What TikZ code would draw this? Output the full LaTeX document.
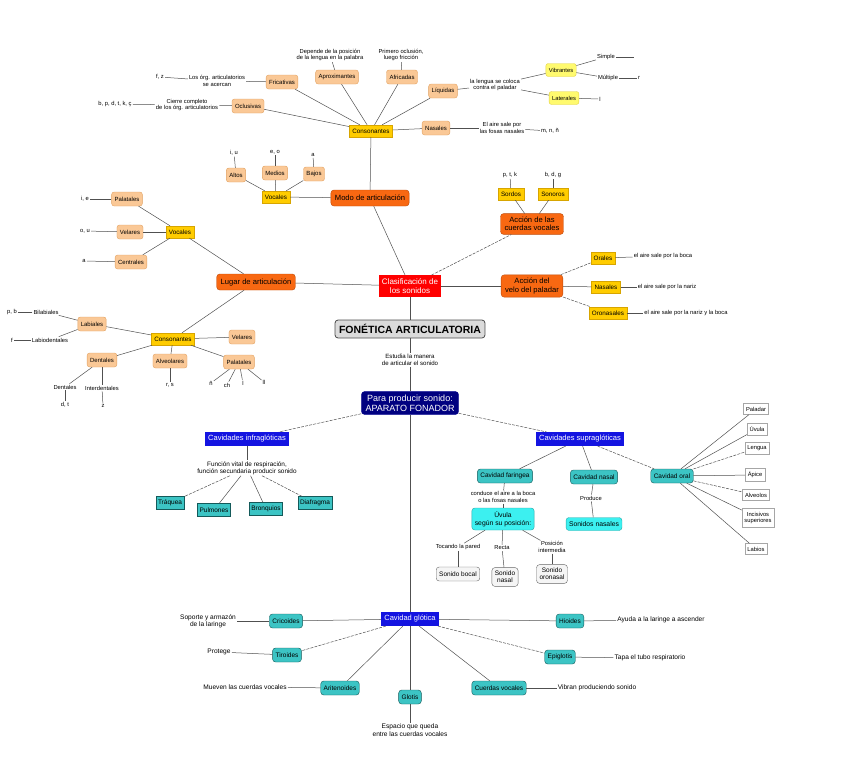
\documentclass[tikz,border=0pt]{standalone}
\usepackage{fontspec}
\setmainfont{Liberation Sans}

\definecolor{salmon}{RGB}{250,200,150}
\definecolor{salmonline}{RGB}{225,160,95}
\definecolor{gold}{RGB}{255,204,0}
\definecolor{goldline}{RGB}{215,165,0}
\definecolor{lyellow}{RGB}{255,250,110}
\definecolor{lyellowline}{RGB}{225,210,70}
\definecolor{orangebox}{RGB}{248,104,18}
\definecolor{orangeline}{RGB}{190,75,10}
\definecolor{navybox}{RGB}{0,0,128}
\definecolor{bluebox}{RGB}{20,20,225}
\definecolor{tealbox}{RGB}{60,196,196}
\definecolor{tealline}{RGB}{20,90,90}
\definecolor{cyanbox}{RGB}{60,240,240}
\definecolor{linegray}{RGB}{80,80,80}

\begin{document}
\begin{tikzpicture}[x=1pt,y=-1pt,
    ann/.style={align=center,inner sep=1pt,font=\fontsize{5.8}{6.4}\selectfont},
    annbig/.style={align=center,inner sep=1pt,font=\fontsize{6.6}{7.4}\selectfont},
    salmonbox/.style={draw=salmonline,fill=salmon,rounded corners=2.5pt,inner xsep=3pt,
      minimum height=14pt,font=\fontsize{6}{7}\selectfont},
    goldbox/.style={draw=goldline,fill=gold,inner xsep=3pt,minimum height=12pt,
      font=\fontsize{6.3}{7}\selectfont},
    yellowbox/.style={draw=lyellowline,fill=lyellow,rounded corners=2.5pt,inner xsep=3pt,
      minimum height=13pt,font=\fontsize{5.8}{7}\selectfont},
    orangenode/.style={draw=orangeline,fill=orangebox,rounded corners=3pt,align=center,
      inner xsep=4pt,minimum height=16pt,font=\fontsize{7.6}{8.4}\selectfont},
    rednode/.style={fill=red,text=white,align=center,inner xsep=3pt,minimum height=21pt,
      font=\fontsize{8}{8.8}\selectfont},
    titlenode/.style={draw=gray!60!black,line width=0.8pt,fill=gray!28,rounded corners=3pt,
      inner xsep=4pt,minimum height=18pt,font=\fontsize{10.5}{12}\bfseries\selectfont},
    navynode/.style={draw=blue!55!black,fill=navybox,text=white,rounded corners=3pt,
      align=center,inner xsep=4pt,minimum height=22pt,font=\fontsize{9}{9.6}\selectfont},
    bluenode/.style={fill=bluebox,text=white,inner xsep=3pt,minimum height=13pt,
      font=\fontsize{7.5}{8}\selectfont},
    tealrect/.style={draw=tealline,fill=tealbox,inner xsep=2pt,minimum height=13pt,
      font=\fontsize{6.5}{7}\selectfont},
    tealround/.style={draw=tealline,fill=tealbox,rounded corners=3pt,inner xsep=3pt,
      minimum height=14pt,font=\fontsize{6.5}{7}\selectfont},
    cyannode/.style={draw=cyanbox!70!black,fill=cyanbox,rounded corners=3pt,align=center,
      inner xsep=3pt,minimum height=13pt,font=\fontsize{6.8}{7.6}\selectfont},
    soundnode/.style={draw=gray!80!black,fill=gray!8,rounded corners=3pt,align=center,
      inner xsep=3pt,minimum height=14pt,font=\fontsize{6.5}{7.3}\selectfont},
    partnode/.style={draw=gray!70,fill=white,align=center,inner xsep=2.5pt,
      minimum height=11pt,font=\fontsize{5.8}{6.6}\selectfont},
    dline/.style={dash pattern=on 3pt off 1.2pt}]

  \useasboundingbox (0,0) rectangle (848,771);

  % light orange rounded boxes
  \begin{scope}[every node/.style={salmonbox}]
    \node (ocl)    at (248,106) {Oclusivas};
    \node (fric)   at (282,82)  {Fricativas};
    \node (aprox)  at (337,77)  {Aproximantes};
    \node (afric)  at (402,77)  {Africadas};
    \node (liq)    at (443,91)  {Líquidas};
    \node (nasM)   at (436,128) {Nasales};
    \node (altos)  at (236,175) {Altos};
    \node (medios) at (275,173) {Medios};
    \node (bajos)  at (314,174) {Bajos};
    \node (palV)   at (127,199) {Palatales};
    \node (velV)   at (130,232) {Velares};
    \node (cenV)   at (131,262) {Centrales};
    \node (lab)    at (92,324)  {Labiales};
    \node (dent)   at (102,360) {Dentales};
    \node (alv)    at (170,361) {Alveolares};
    \node (pal)    at (239,362) {Palatales};
    \node (vel)    at (242,337) {Velares};
  \end{scope}

  \begin{scope}[every node/.style={goldbox}]
    \node (consM)   at (371,131) {Consonantes};
    \node (vocM)    at (276,197) {Vocales};
    \node (vocL)    at (180,232) {Vocales};
    \node (consL)   at (173,339) {Consonantes};
    \node (sordos)  at (511,194) {Sordos};
    \node (sonoros) at (553,194) {Sonoros};
    \node (orales)  at (603,258) {Orales};
    \node (nasV)    at (606,287) {Nasales};
    \node (oron)    at (608,313) {Oronasales};
  \end{scope}

  \node[yellowbox] (vibr) at (561,70) {Vibrantes};
  \node[yellowbox] (lat)  at (564,98) {Laterales};

  \begin{scope}[every node/.style={orangenode}]
    \node (modo)    at (370,198) {Modo de articulación};
    \node (lugar)   at (256,282) {Lugar de articulación};
    \node (cuerdas) at (532,224) {Acción de las\\cuerdas vocales};
    \node (velo)    at (532,286) {Acción del\\velo del paladar};
  \end{scope}

  \node[rednode]   (clasif)   at (410,286) {Clasificación de\\los sonidos};
  \node[titlenode] (fonetica) at (410,329) {FONÉTICA ARTICULATORIA};
  \node[navynode]  (aparato)  at (410,403) {Para producir sonido:\\APARATO FONADOR};

  \begin{scope}[every node/.style={bluenode}]
    \node (infra) at (247,439) {Cavidades infraglóticas};
    \node (supra) at (580,439) {Cavidades supraglóticas};
    \node (glot)  at (410,619) {Cavidad glótica};
  \end{scope}

  \begin{scope}[every node/.style={tealrect}]
    \node (traq)  at (170,503) {Tráquea};
    \node (pulm)  at (214,510) {Pulmones};
    \node (bronq) at (266,509) {Bronquios};
    \node (diaf)  at (315,503) {Diafragma};
  \end{scope}

  \begin{scope}[every node/.style={tealround}]
    \node (far)    at (505,476) {Cavidad faringea};
    \node (nasC)   at (594,477) {Cavidad nasal};
    \node (oral)   at (672,476) {Cavidad oral};
    \node (cric)   at (286,621) {Cricoides};
    \node (tiro)   at (287,655) {Tiroides};
    \node (arit)   at (340,688) {Aritenoides};
    \node (glotis) at (410,697) {Glotis};
    \node (hioi)   at (570,621) {Hioides};
    \node (epig)   at (560,657) {Epiglotis};
    \node (cvoc)   at (499,688) {Cuerdas vocales};
  \end{scope}

  \node[cyannode,minimum height=22pt] (uvula) at (503,519) {Úvula\\según su posición:};
  \node[cyannode] (snasales) at (594,524) {Sonidos nasales};

  \begin{scope}[every node/.style={soundnode}]
    \node (bocal)  at (458,574) {Sonido bocal};
    \node (snasal) at (505,577) {Sonido\\nasal};
    \node (oronas) at (552,574) {Sonido\\oronasal};
  \end{scope}

  \begin{scope}[every node/.style={partnode}]
    \node (paladar)  at (756,409) {Paladar};
    \node (uvulaB)   at (757,429) {Úvula};
    \node (lengua)   at (757,448) {Lengua};
    \node (apice)    at (755,475) {Ápice};
    \node (alveolos) at (756,495) {Alveolos};
    \node (incis)    at (758,518) {Incisivos\\superiores};
    \node (labios)   at (756,549) {Labios};
  \end{scope}

  % texts between the boxes
  \begin{scope}[every node/.style={ann}]
    \node (oclT)     at (187,105) {Cierre completo\\de los órg. articulatorios};
    \node (oclX)     at (115,104) {b, p, d, t, k, ç};
    \node (fricT)    at (217,81)  {Los órg. articulatorios\\se acercan};
    \node (fricX)    at (160,77)  {f, z};
    \node (aproxT)   at (330,55)  {Depende de la posición\\de la lengua en la palabra};
    \node (africT)   at (401,55)  {Primero oclusión,\\luego fricción};
    \node (liqT)     at (495,85)  {la lengua se coloca\\contra el paladar};
    \node (simple)   at (606,57)  {Simple};
    \node (mult)     at (608,78)  {Múltiple};
    \node (multX)    at (639,78)  {r};
    \node (latX)     at (600,99)  {l};
    \node (nasMT)    at (502,128) {El aire sale por\\las fosas nasales};
    \node (nasMX)    at (550,131) {m, n, ñ};
    \node (altosX)   at (234,153) {i, u};
    \node (mediosX)  at (275,152) {e, o};
    \node (bajosX)   at (313,155) {a};
    \node (palVX)    at (85,199)  {i, e};
    \node (velVX)    at (85,231)  {o, u};
    \node (cenVX)    at (84,261)  {a};
    \node (bilab)    at (46,312)  {Bilabiales};
    \node (bilabX)   at (12,312)  {p, b};
    \node (labio)    at (50,340)  {Labiodentales};
    \node (labioX)   at (12,340)  {f};
    \node (dentT)    at (65,387)  {Dentales};
    \node (dentX)    at (65,405)  {d, t};
    \node (inter)    at (102,388) {Interdentales};
    \node (interX)   at (103,406) {z};
    \node (alvX)     at (170,385) {r, s};
    \node (palA)     at (211,383) {ñ};
    \node (palB)     at (227,385) {ch};
    \node (palC)     at (243,383) {l};
    \node (palD)     at (264,382) {ll};
    \node (sordosX)  at (510,175) {p, t, k};
    \node (sonorosX) at (553,175) {b, d, g};
    \node (oralesT)  at (663,256) {el aire sale por la boca};
    \node (nasVT)    at (667,287) {el aire sale por la nariz};
    \node (oronT)    at (686,313) {el aire sale por la nariz y la boca};
    \node (conduce)  at (503,497) {conduce el aire a la boca\\o las fosas nasales};
    \node (tocando)  at (458,547) {Tocando la pared};
    \node (recta)    at (502,548) {Recta};
    \node (posic)    at (552,547) {Posición\\intermedia};
    \node (produce)  at (591,498) {Produce};
  \end{scope}
  \coordinate (simpleE) at (634,57);

  \node[ann,font=\fontsize{6.1}{6.9}\selectfont] (estudia) at (410,360)
    {Estudia la manera\\de articular el sonido};
  \node[ann,font=\fontsize{6.4}{7.1}\selectfont] (funcion) at (247,468)
    {Función vital de respiración,\\función secundaria producir sonido};

  \begin{scope}[every node/.style={annbig}]
    \node (cricT)   at (208,621) {Soporte y armazón\\de la laringe};
    \node (tiroT)   at (219,652) {Protege};
    \node (aritT)   at (245,687) {Mueven las cuerdas vocales};
    \node (glotisT) at (410,730) {Espacio que queda\\entre las cuerdas vocales};
    \node (hioiT)   at (661,620) {Ayuda a la laringe a ascender};
    \node (epigT)   at (650,658) {Tapa el tubo respiratorio};
    \node (cvocT)   at (597,688) {Vibran produciendo sonido};
  \end{scope}

  \begin{scope}[every edge/.style={draw=linegray,line width=0.5pt}]
    % modo de articulacion
    \path (consM) edge (modo)
          (consM) edge (ocl)  (consM) edge (fric)  (consM) edge (aprox)
          (consM) edge (afric) (consM) edge (liq)  (consM) edge (nasM)
          (ocl) edge (oclT)   (oclT) edge (oclX)
          (fric) edge (fricT) (fricT) edge (fricX)
          (aprox) edge (aproxT) (afric) edge (africT)
          (liq) edge (liqT)   (liqT) edge (vibr)   (liqT) edge (lat)
          (vibr) edge (simple) (simple) edge (simpleE)
          (vibr) edge (mult)  (mult) edge (multX)  (lat) edge (latX)
          (nasM) edge (nasMT) (nasMT) edge (nasMX);
    \path (modo) edge (vocM)
          (vocM) edge (altos) (vocM) edge (medios) (vocM) edge (bajos)
          (altos) edge (altosX) (medios) edge (mediosX) (bajos) edge (bajosX);
    % clasificacion
    \path (modo) edge (clasif)  (clasif) edge (lugar)
          (clasif) edge[dline] (cuerdas)  (clasif) edge (velo)
          (clasif) edge (fonetica);
    % lugar de articulacion
    \path (lugar) edge (vocL)  (lugar) edge (consL)
          (vocL) edge (palV)  (vocL) edge (velV)  (vocL) edge (cenV)
          (palV) edge (palVX) (velV) edge (velVX) (cenV) edge (cenVX);
    \path (consL) edge (lab)  (consL) edge (dent)  (consL) edge (alv)
          (consL) edge (pal)  (consL) edge (vel)
          (lab) edge (bilab)  (bilab) edge (bilabX)
          (lab) edge (labio)  (labio) edge (labioX)
          (dent) edge (dentT) (dentT) edge (dentX)
          (dent) edge (inter) (inter) edge (interX)
          (alv) edge (alvX)
          (pal) edge (palA) (pal) edge (palB) (pal) edge (palC) (pal) edge (palD);
    % cuerdas y velo
    \path (cuerdas) edge (sordos)  (cuerdas) edge (sonoros)
          (sordos) edge (sordosX)  (sonoros) edge (sonorosX)
          (velo) edge[dline] (orales) (velo) edge (nasV) (velo) edge[dline] (oron)
          (orales) edge (oralesT) (nasV) edge (nasVT) (oron) edge (oronT);
    % aparato fonador
    \path (fonetica) edge (estudia)  (estudia) edge (aparato)
          (aparato) edge[dline] (infra)  (aparato) edge[dline] (supra)
          (aparato) edge (glot);
    \path (infra) edge (funcion)
          (funcion) edge[dline] (traq)  (funcion) edge (pulm)
          (funcion) edge (bronq)  (funcion) edge[dline] (diaf);
    \path (supra) edge (far)  (supra) edge (nasC)  (supra) edge[dline] (oral)
          (far) edge (conduce)  (conduce) edge (uvula)
          (uvula) edge (tocando)  (tocando) edge (bocal)
          (uvula) edge (recta)  (recta) edge (snasal)
          (uvula) edge (posic)  (posic) edge (oronas)
          (nasC) edge (produce)  (produce) edge (snasales);
    \path (oral) edge (paladar)  (oral) edge (uvulaB)  (oral) edge[dline] (lengua)
          (oral) edge (apice)  (oral) edge[dline] (alveolos)
          (oral) edge (incis)  (oral) edge (labios);
    % cavidad glotica
    \path (glot) edge (cric)  (glot) edge[dline] (tiro)  (glot) edge (arit)
          (glot) edge (glotis)  (glot) edge (cvoc)  (glot) edge[dline] (epig)
          (glot) edge (hioi)
          (cric) edge (cricT)  (tiro) edge (tiroT)  (arit) edge (aritT)
          (glotis) edge (glotisT)  (cvoc) edge (cvocT)
          (epig) edge (epigT)  (hioi) edge (hioiT);
  \end{scope}

\end{tikzpicture}
\end{document}
